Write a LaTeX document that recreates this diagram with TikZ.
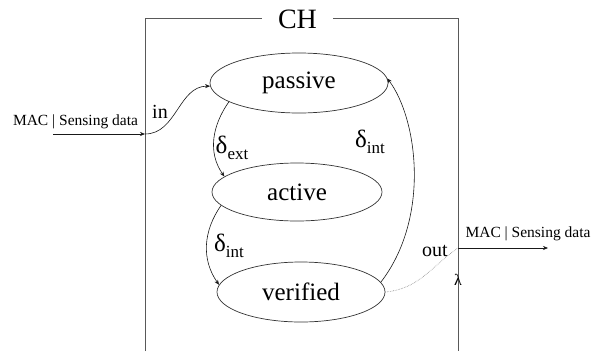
\documentclass[tikz,border=0pt]{standalone}
\usepackage{fontspec}
\setmainfont{Liberation Serif}
\usetikzlibrary{shapes.geometric,arrows.meta}
\begin{document}
\begin{tikzpicture}[x=1pt,y=1pt,
  state/.style={draw=black!80, line width=0.7pt, ellipse, inner sep=0pt,
    font=\fontsize{25}{25}\selectfont},
  boxline/.style={draw=black!65, line width=0.9pt},
  portlbl/.style={font=\fontsize{15.5}{16}\selectfont},
  iolbl/.style={font=\fontsize{20}{20}\selectfont},
  deltalbl/.style={font=\fontsize{25}{25}\selectfont},
  trans/.style={draw=black!90, line width=0.6pt, -{Stealth[length=5pt,width=4pt]}}]
\useasboundingbox (0,0) rectangle (599,-351);

% coupled model frame
\coordinate (bl) at (145,-351);
\coordinate (tl) at (145,-18);
\coordinate (tr) at (458,-18);
\coordinate (br) at (458,-351);
\draw[boxline] (bl) -- (tl) -- (tr) -- (br);
\node[fill=white, inner xsep=16pt, inner ysep=3pt, font=\fontsize{28}{28}\selectfont]
  (ch) at (297.5,-19) {CH};

% states
\node[state, minimum width=178pt, minimum height=60pt] (passive) at (299,-83) {passive};
\node[state, minimum width=170pt, minimum height=58pt] (active) at (297,-192) {active};
\node[state, minimum width=168pt, minimum height=60pt] (verified) at (301,-292) {verified};

% input port
\coordinate (src) at (53,-134);
\coordinate (inp) at (145,-134);
\draw[trans] (src) -- (inp);
\node[portlbl] (inlbl) at (75.5,-122) {MAC | Sensing data};
\node[iolbl] (intxt) at (160,-112) {in};
\draw[trans] (inp) to[out=0,in=180] (passive.182);

% output port
\coordinate (outp) at (458,-248);
\coordinate (dst) at (548,-248);
\draw[trans] (outp) -- (dst);
\node[portlbl] (outlbl) at (528,-234) {MAC | Sensing data};
\node[iolbl] (outtxt) at (435,-251) {out};
\node[font=\fontsize{16}{16}\selectfont] (lam) at (458,-280) {λ};
\draw[gray, densely dotted, line width=0.6pt] (verified.0) to[out=5,in=215] (outp);

% transitions
\draw[trans] (passive.195) to[out=235,in=125] (active.168);
\node[deltalbl] (dext) at (232,-148) {δ\raisebox{-6pt}{\fontsize{17}{17}\selectfont ext}};
\draw[trans] (active.190) to[out=235,in=125] (verified.175);
\node[deltalbl] (dint1) at (229,-246) {δ\raisebox{-6pt}{\fontsize{17}{17}\selectfont int}};
\draw[trans] (verified.7) .. controls +(50,65) and +(30,-40) .. (passive.3);
\node[deltalbl] (dint2) at (370,-142) {δ\raisebox{-6pt}{\fontsize{17}{17}\selectfont int}};
\end{tikzpicture}
\end{document}
